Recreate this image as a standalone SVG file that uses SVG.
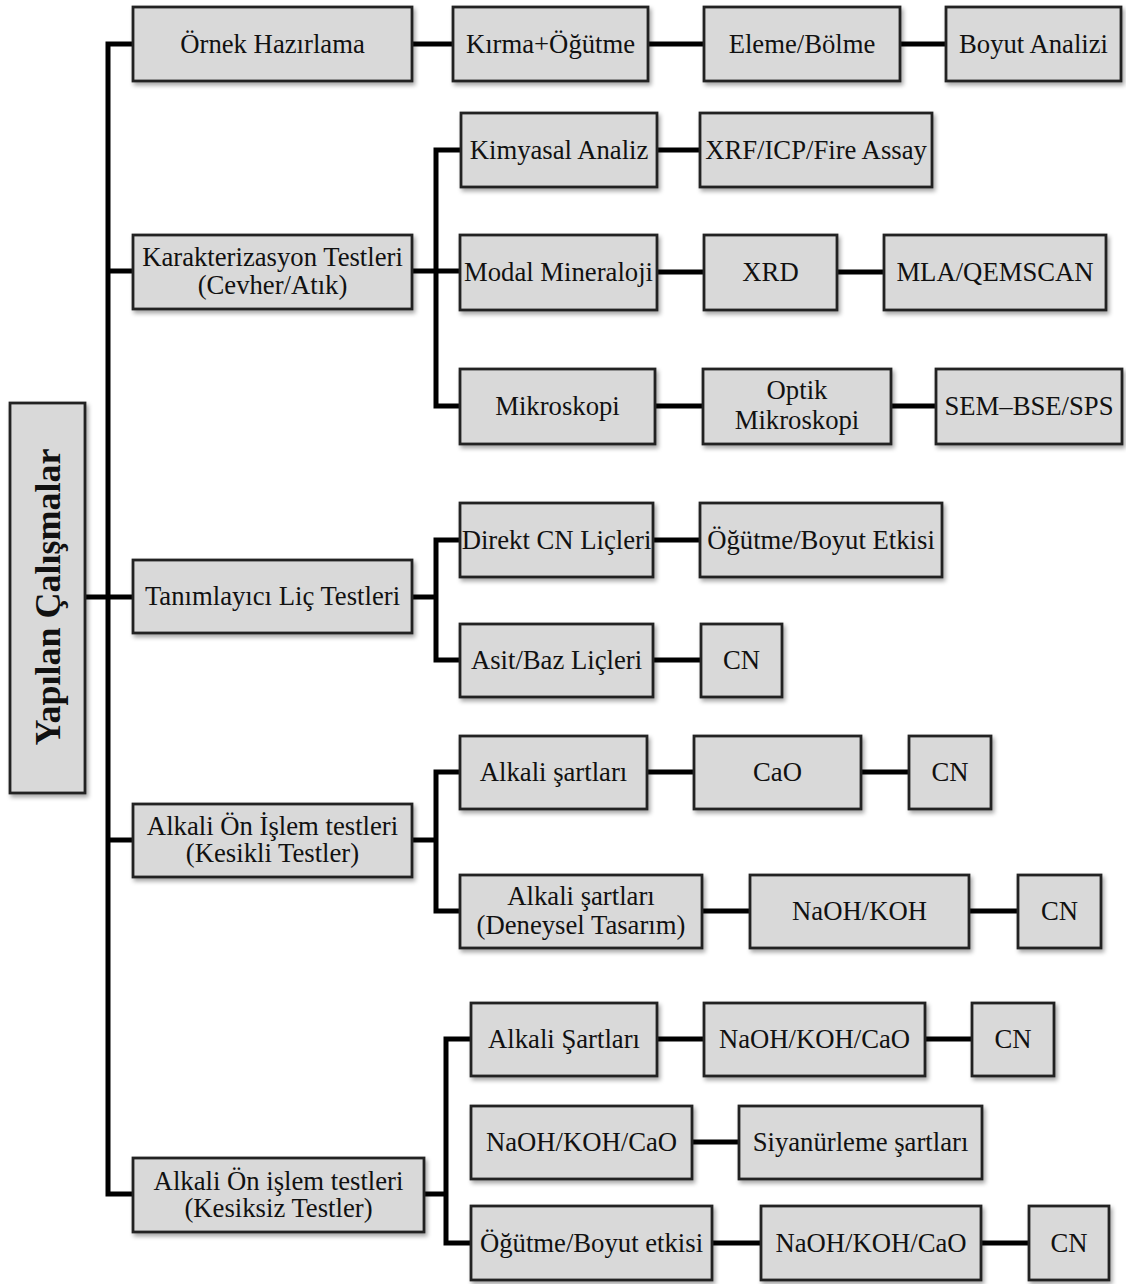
<svg xmlns="http://www.w3.org/2000/svg" width="1126" height="1284" viewBox="0 0 1126 1284">
  <defs>
    <filter id="shadow" x="-10%" y="-10%" width="130%" height="140%">
      <feDropShadow dx="2" dy="3" stdDeviation="2" flood-color="#000" flood-opacity="0.35"/>
    </filter>
    <style>
      .box { fill: #d9d9d9; stroke: #222; stroke-width: 2.8; filter: url(#shadow); }
      .lbl { font-family: "Liberation Serif", "Times New Roman", serif; font-size: 26.7px; fill: #111; text-anchor: middle; }
      .root { font-family: "Liberation Serif", "Times New Roman", serif; font-size: 36px; font-weight: bold; fill: #111; text-anchor: middle; }
      .wire { fill: none; stroke: #000; stroke-width: 5; stroke-linejoin: miter; stroke-linecap: butt; }
    </style>
  </defs>

  <rect width="1126" height="1284" fill="#fff"/>

  <!-- connectors -->
  <g id="connectors" class="wire">
    <!-- main trunk -->
    <path d="M132,44 H108 V1194 H132"/>
    <path d="M108,271 H132"/>
    <path d="M108,840 H132"/>
    <path d="M86,597 H132"/>
    <!-- sample preparation chain -->
    <path d="M413,44 H452"/>
    <path d="M649,44 H703"/>
    <path d="M901,44 H945"/>
    <!-- characterization -->
    <path d="M413,271 H459"/>
    <path d="M460,150 H436 V406 H459"/>
    <path d="M658,150 H699"/>
    <path d="M658,272 H703"/>
    <path d="M838,272 H883"/>
    <path d="M656,406 H702"/>
    <path d="M892,406 H935"/>
    <!-- diagnostic leach -->
    <path d="M413,597 H436"/>
    <path d="M459,540 H436 V660 H459"/>
    <path d="M654,540 H699"/>
    <path d="M654,660 H700"/>
    <!-- batch alkaline pretreatment -->
    <path d="M413,840 H436"/>
    <path d="M459,772 H436 V911 H459"/>
    <path d="M648,772 H693"/>
    <path d="M862,772 H908"/>
    <path d="M703,911 H749"/>
    <path d="M970,911 H1017"/>
    <!-- continuous alkaline pretreatment -->
    <path d="M425,1194 H446"/>
    <path d="M470,1039 H446 V1243 H470"/>
    <path d="M658,1039 H703"/>
    <path d="M926,1039 H971"/>
    <path d="M693,1142 H738"/>
    <path d="M713,1243 H760"/>
    <path d="M982,1243 H1028"/>
  </g>

  <!-- root -->
  <g id="n0">
    <rect class="box" x="10" y="403" width="75" height="390"/>
    <text class="root" transform="translate(60,597) rotate(-90)">Yapılan Çalışmalar</text>
  </g>

  <!-- level 1 -->
  <g id="n1">
    <rect class="box" x="133" y="7" width="279" height="74"/>
    <text class="lbl" x="272.5" y="53">Örnek Hazırlama</text>
  </g>
  <g id="n2">
    <rect class="box" x="133" y="235" width="279" height="74"/>
    <text class="lbl" x="272.5" y="266">Karakterizasyon Testleri<tspan x="272.5" dy="28">(Cevher/Atık)</tspan></text>
  </g>
  <g id="n3">
    <rect class="box" x="133" y="560" width="279" height="73"/>
    <text class="lbl" x="272.5" y="605">Tanımlayıcı Liç Testleri</text>
  </g>
  <g id="n4">
    <rect class="box" x="133" y="804" width="279" height="73"/>
    <text class="lbl" x="272.5" y="835">Alkali Ön İşlem testleri<tspan x="272.5" dy="27">(Kesikli Testler)</tspan></text>
  </g>
  <g id="n5">
    <rect class="box" x="133" y="1158" width="291" height="74"/>
    <text class="lbl" x="278.5" y="1190">Alkali Ön işlem testleri<tspan x="278.5" dy="27">(Kesiksiz Testler)</tspan></text>
  </g>

  <!-- sample preparation chain -->
  <g id="n11">
    <rect class="box" x="453" y="7" width="195" height="74"/>
    <text class="lbl" x="550.5" y="53">Kırma+Öğütme</text>
  </g>
  <g id="n12">
    <rect class="box" x="704" y="7" width="196" height="74"/>
    <text class="lbl" x="802" y="53">Eleme/Bölme</text>
  </g>
  <g id="n13">
    <rect class="box" x="946" y="7" width="175" height="74"/>
    <text class="lbl" x="1033.5" y="53">Boyut Analizi</text>
  </g>

  <!-- characterization -->
  <g id="n21">
    <rect class="box" x="461" y="113" width="196" height="74"/>
    <text class="lbl" x="559" y="159">Kimyasal Analiz</text>
  </g>
  <g id="n22">
    <rect class="box" x="700" y="113" width="232" height="74"/>
    <text class="lbl" x="816" y="159">XRF/ICP/Fire Assay</text>
  </g>
  <g id="n23">
    <rect class="box" x="460" y="235" width="197" height="75"/>
    <text class="lbl" x="558.5" y="281">Modal Mineraloji</text>
  </g>
  <g id="n24">
    <rect class="box" x="704" y="235" width="133" height="75"/>
    <text class="lbl" x="770.5" y="281">XRD</text>
  </g>
  <g id="n25">
    <rect class="box" x="884" y="235" width="222" height="75"/>
    <text class="lbl" x="995" y="281">MLA/QEMSCAN</text>
  </g>
  <g id="n26">
    <rect class="box" x="460" y="369" width="195" height="75"/>
    <text class="lbl" x="557.5" y="415">Mikroskopi</text>
  </g>
  <g id="n27">
    <rect class="box" x="703" y="369" width="188" height="75"/>
    <text class="lbl" x="797" y="399">Optik<tspan x="797" dy="29.5">Mikroskopi</tspan></text>
  </g>
  <g id="n28">
    <rect class="box" x="936" y="369" width="186" height="75"/>
    <text class="lbl" x="1029" y="415">SEM–BSE/SPS</text>
  </g>

  <!-- diagnostic leach -->
  <g id="n31">
    <rect class="box" x="460" y="503" width="193" height="74"/>
    <text class="lbl" x="556.5" y="549">Direkt CN Liçleri</text>
  </g>
  <g id="n32">
    <rect class="box" x="700" y="503" width="242" height="74"/>
    <text class="lbl" x="821" y="549">Öğütme/Boyut Etkisi</text>
  </g>
  <g id="n33">
    <rect class="box" x="460" y="624" width="193" height="73"/>
    <text class="lbl" x="556.5" y="669">Asit/Baz Liçleri</text>
  </g>
  <g id="n34">
    <rect class="box" x="701" y="624" width="81" height="73"/>
    <text class="lbl" x="741.5" y="669">CN</text>
  </g>

  <!-- batch alkaline pretreatment -->
  <g id="n41">
    <rect class="box" x="460" y="736" width="187" height="73"/>
    <text class="lbl" x="553.5" y="781">Alkali şartları</text>
  </g>
  <g id="n42">
    <rect class="box" x="694" y="736" width="167" height="73"/>
    <text class="lbl" x="777.5" y="781">CaO</text>
  </g>
  <g id="n43">
    <rect class="box" x="909" y="736" width="82" height="73"/>
    <text class="lbl" x="950" y="781">CN</text>
  </g>
  <g id="n44">
    <rect class="box" x="460" y="875" width="242" height="73"/>
    <text class="lbl" x="581" y="904.5">Alkali şartları<tspan x="581" dy="29.5">(Deneysel Tasarım)</tspan></text>
  </g>
  <g id="n45">
    <rect class="box" x="750" y="875" width="219" height="73"/>
    <text class="lbl" x="859.5" y="920">NaOH/KOH</text>
  </g>
  <g id="n46">
    <rect class="box" x="1018" y="875" width="83" height="73"/>
    <text class="lbl" x="1059.5" y="920">CN</text>
  </g>

  <!-- continuous alkaline pretreatment -->
  <g id="n51">
    <rect class="box" x="471" y="1003" width="186" height="73"/>
    <text class="lbl" x="564" y="1048">Alkali Şartları</text>
  </g>
  <g id="n52">
    <rect class="box" x="704" y="1003" width="221" height="73"/>
    <text class="lbl" x="814.5" y="1048">NaOH/KOH/CaO</text>
  </g>
  <g id="n53">
    <rect class="box" x="972" y="1003" width="82" height="73"/>
    <text class="lbl" x="1013" y="1048">CN</text>
  </g>
  <g id="n54">
    <rect class="box" x="471" y="1106" width="221" height="73"/>
    <text class="lbl" x="581.5" y="1151">NaOH/KOH/CaO</text>
  </g>
  <g id="n55">
    <rect class="box" x="739" y="1106" width="243" height="73"/>
    <text class="lbl" x="860.5" y="1151">Siyanürleme şartları</text>
  </g>
  <g id="n56">
    <rect class="box" x="471" y="1206" width="241" height="74"/>
    <text class="lbl" x="591.5" y="1252">Öğütme/Boyut etkisi</text>
  </g>
  <g id="n57">
    <rect class="box" x="761" y="1206" width="220" height="74"/>
    <text class="lbl" x="871" y="1252">NaOH/KOH/CaO</text>
  </g>
  <g id="n58">
    <rect class="box" x="1029" y="1206" width="80" height="74"/>
    <text class="lbl" x="1069" y="1252">CN</text>
  </g>
</svg>
